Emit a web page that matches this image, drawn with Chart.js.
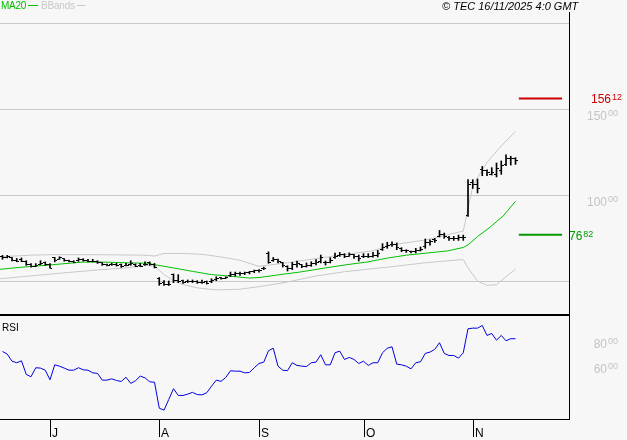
<!DOCTYPE html>
<html>
<head>
<meta charset="utf-8">
<script src="https://cdn.jsdelivr.net/npm/chart.js@4.4.1/dist/chart.umd.min.js"></script>
<style>
  body { margin: 0; background: #f7f7f7; }
  #wrap { position: relative; width: 627px; height: 440px; overflow: hidden; font-family: "Liberation Sans", Arial, sans-serif; }
  canvas { position: absolute; left: 0; }
  #price { top: 0; }
  #rsi { top: 314px; }
  .txt { position: absolute; font-size: 10px; line-height: 10px; white-space: nowrap; }
  .dash { display: inline-block; width: 10px; height: 1px; margin-left: 2px; vertical-align: 3px; }
</style>
</head>
<body>
<div id="wrap">
  <canvas id="price" width="627" height="316"></canvas>
  <canvas id="rsi" width="627" height="126"></canvas>
  <div class="txt" style="left:1px;top:1px;color:#00c000;letter-spacing:-0.3px">MA20<span class="dash" style="background:#00c000"></span></div>
  <div class="txt" style="left:41px;top:1px;color:#c8c8c8;letter-spacing:-0.2px">BBands<span class="dash" style="background:#c8c8c8;width:8px"></span></div>
  <div class="txt" style="left:442px;top:1px;font-size:11px;line-height:11px;font-style:italic;color:#000">© TEC 16/11/2025 4:0 GMT</div>
  <div class="txt" style="left:2px;top:323px;color:#000">RSI</div>
</div>
<script>
// trading days 17 Jun 2025 -> 14 Nov 2025, one value per bar
const opens = [64.5, 63.8, 63.5, 62, 62.5, 61.5, 59.5, 58.5, 59.8, 60.5, 59.5, 63.5, 62.5, 63, 62, 61.5, 61.8, 62.5, 62, 61.5,
  61.5, 60.5, 59.5, 59.5, 59.5, 59.5, 59, 59.5, 59.5, 59, 59.5, 60.5, 59.5, 51.5, 49, 48, 53.5, 50, 50, 49.5,
  49.5, 49.5, 49, 49.5, 49.5, 51, 51.8, 51.5, 53, 54, 54.5, 54.5, 55, 55.5, 56, 57, 66, 62, 62.5, 60.5,
  58.5, 57.5, 59.5, 59.5, 58.5, 59, 60, 61.5, 61, 61, 63.5, 65, 65.5, 64.5, 65.5, 64, 64, 64.5, 64.5, 65,
  68.5, 70, 71, 71.5, 69, 68, 67, 67, 68, 70, 72.5, 74, 76, 77, 75.5, 74.5, 74.5, 75.5, 88, 107,
  106, 115, 114, 112, 112, 114, 118, 121, 121];
const highs = [64.9, 64.9, 63.7, 63.1, 63.4, 61.8, 60.1, 60.1, 61.8, 61.1, 60.1, 63.7, 64.1, 63.0, 62.2, 61.8, 63.4, 63.0, 62.6, 62.6,
  61.8, 60.6, 59.9, 60.3, 60.3, 59.9, 60.3, 61.8, 59.9, 60.3, 61.1, 61.1, 60.2, 52, 50.2, 50.0, 54.1, 53.7, 50.6, 50.6,
  50.6, 50.2, 50.6, 50.0, 51.3, 52.5, 52.1, 52.5, 55.2, 55.2, 55.2, 55.2, 55.6, 56.4, 56.7, 58.1, 67.0, 63.7, 62.8, 60.8,
  58.9, 60.8, 61.6, 59.7, 60.5, 61.2, 62.4, 65.1, 61.6, 63.6, 66.3, 66.6, 65.9, 66.3, 65.5, 65.1, 65.9, 65.9, 66.6, 67.8,
  71.7, 72.5, 72.8, 72.1, 69.4, 68.2, 67.4, 69.0, 69.8, 74.4, 74.0, 74.8, 79.4, 77.9, 75.9, 75.9, 76.7, 76.7, 108.9, 108.9,
  109.3, 116.6, 114.7, 115.9, 118.6, 119.8, 123.3, 122.5, 121.7];
const lows = [62.6, 63.4, 61.6, 61.2, 61.2, 59.1, 58.0, 58.3, 59.5, 59.1, 57.4, 61.1, 62.6, 61.5, 61.1, 60.6, 61.4, 61.5, 61.1, 61.1,
  60.2, 59.1, 58.7, 59.1, 58.7, 57.9, 58.7, 59.1, 58.3, 58.3, 59.1, 59.1, 57.6, 47.5, 47.4, 47.4, 49.0, 49.0, 48.6, 49.1,
  49.1, 48.6, 48.6, 48.2, 49.0, 50.2, 51.0, 51.4, 52.5, 52.9, 53.3, 53.7, 54.1, 54.8, 55.2, 56.6, 60.3, 61.4, 60.5, 58.1,
  55.8, 56.6, 58.1, 57.7, 58.1, 58.5, 59.3, 60.5, 59.3, 60.5, 63.1, 64.3, 63.6, 64.3, 63.1, 61.6, 63.6, 63.6, 63.9, 64.0,
  67.8, 69.0, 70.1, 68.2, 67.0, 66.6, 66.3, 66.3, 67.4, 69.0, 70.9, 72.4, 75.6, 74.8, 73.6, 73.6, 73.6, 73.6, 87.6, 103.8,
  101.2, 111.2, 111.2, 111.6, 110.5, 112.0, 117.1, 117.4, 117.8];
const closes = [63.5, 64, 62, 61.5, 61.5, 59.5, 58.5, 58.8, 60, 59.5, 57.5, 62, 63.5, 62, 61.5, 61, 62.5, 62, 61.5, 61.5,
  60.5, 59.5, 59.2, 59.3, 59, 58.5, 59, 60, 58.5, 58.7, 59.5, 59.5, 58, 48.5, 48, 47.8, 50, 49.5, 49, 49.5,
  49.5, 49, 49, 48.5, 50, 51.5, 51.5, 51.8, 54, 54.5, 54.5, 55, 55.5, 56, 56.3, 57.5, 61, 62.5, 61.5, 59,
  57, 59.5, 60, 58.5, 59, 60, 61, 63.5, 60.5, 62, 64.5, 65.5, 64.5, 65.5, 64, 63, 64.5, 64.5, 65, 66,
  69.5, 70.5, 71.5, 69.5, 68, 67.5, 67, 67.5, 68.5, 72.5, 73, 73.5, 77, 76, 74.5, 74.5, 75, 75, 106, 106,
  104, 114, 113, 113, 115.5, 117, 121, 121.5, 120];
const rsi = [69.3, 67.1, 61.3, 60, 61.6, 50.4, 48.5, 55.9, 55.6, 53.9, 46, 58.3, 57.2, 55.6, 53.9, 53.9, 55.9, 54.2, 53.9, 51.7,
  51.3, 45.7, 45.7, 46.8, 45.4, 44.6, 48.1, 43, 45.2, 49, 47.6, 44.3, 44, 22.6, 21, 29.8, 38.6, 33.1, 33.1, 34.2,
  35.6, 33.8, 33.6, 35.3, 40.7, 45.7, 44.7, 47.9, 53.4, 53.1, 53.1, 51.7, 52, 55.9, 59.4, 60.5, 69.9, 72, 57.2, 53.9,
  53.5, 60, 57.8, 57.2, 56.9, 60, 60.5, 66.6, 58.3, 58.3, 68.2, 69.6, 62.7, 64.4, 62.7, 59.4, 61.3, 57.8, 60, 60,
  68.2, 72, 73.1, 58.9, 58.3, 57.2, 55, 60, 60.8, 67.7, 68.8, 71, 76.5, 67.7, 66, 66, 63.8, 68.2, 88, 88.5,
  88.5, 90.7, 82.5, 84.1, 78.6, 82.5, 78.1, 79.8, 79.8];

// indicator lines, read at bar positions (bar index, value)
const maIdx = [-0.5, 4, 9, 14, 17, 21, 26, 30.5, 32, 36, 40, 44, 46, 52, 54, 58.4, 62.6, 68, 72.5, 76.7, 81, 85, 89.5, 93.7, 97, 98, 100, 102.6, 105.4, 108];
const maVals = [56.8, 58, 59.1, 60.3, 61, 61, 60.6, 60.3, 59.5, 57.6, 55.6, 53.7, 53.3, 51.7, 52, 53.7, 55.2, 57.6, 59.5, 61, 63.3, 65, 66.3, 67.5, 69.5, 71, 75.8, 81.2, 87.8, 96.3];
const upIdx = [-0.5, 6, 10, 20, 30, 32, 34, 38, 42, 46, 50, 54, 60, 68, 78, 82, 89, 97, 98, 99, 100, 102, 105, 108];
const upVals = [64.1, 65, 65.3, 65.3, 65, 64.5, 66, 66, 65.5, 64, 62, 58.5, 60.6, 63.8, 67.6, 71, 73.8, 79, 92, 105, 110, 119, 128.5, 137];
const loIdx = [-0.5, 12, 20, 26, 30, 32, 34, 36, 38, 41, 45, 50, 55, 60, 66, 72, 78, 82, 89, 97, 98, 100, 102, 104, 106, 108];
const loVals = [51.3, 54.5, 56.4, 57.6, 59.1, 58.7, 53.7, 50.2, 47.9, 46, 44.8, 45.2, 47.1, 49.4, 52.9, 55.4, 57.2, 58.3, 60.6, 62.5, 57.6, 50, 47.5, 47.8, 52.5, 56.8];

const levels = [156.12, 76.82];
const levelSpan = [108.7, 117.8];
const priceTicks = [150, 100];
const priceGrid = [200, 150, 100, 50];
const rsiTicks = [80, 60];
const monthLabels = ["J", "A", "S", "O", "N"];
const monthIdx = [10, 33, 54, 76, 99];

const xMin = -0.526, xMax = 119.26;
const toXY = (idx, vals) => idx.map((x, i) => ({ x, y: vals[i] }));

const tickImg = (side) => {
  const c = document.createElement("canvas");
  c.width = 5; c.height = 1;
  const g = c.getContext("2d");
  g.fillStyle = "#000";
  g.fillRect(side < 0 ? 0 : 3, 0, 2, 1);
  return c;
};

const drawSplit = (ctx, big, small, x, base, color, align, bigFont, smallFont) => {
  ctx.fillStyle = color;
  ctx.font = bigFont;
  let left = x;
  if (align === "right") left = x - ctx.measureText(big).width;
  ctx.textAlign = "left";
  ctx.fillText(big, left, base);
  const w = ctx.measureText(big).width;
  ctx.font = smallFont;
  ctx.fillText(small, left + w + 1, base - 3.5);
};

const splitNum = (v) => v.toFixed(2).split(".");

const pricePlugin = {
  id: "pricePlugin",
  beforeDatasetsDraw(chart) {
    const { ctx, chartArea, scales: { y } } = chart;
    ctx.save();
    ctx.fillStyle = "#c8c8c8";
    priceGrid.forEach((v) => {
      ctx.fillRect(chartArea.left, Math.round(y.getPixelForValue(v)), chartArea.right - chartArea.left, 1);
    });
    ctx.restore();
  },
  afterDraw(chart) {
    const { ctx, chartArea, scales: { y } } = chart;
    ctx.save();
    ctx.textBaseline = "alphabetic";
    priceTicks.forEach((v) => {
      const [a, b] = splitNum(v);
      drawSplit(ctx, a, b, chartArea.right + 38, Math.round(y.getPixelForValue(v)) + 10.5, "#c4c4c4", "right",
        "12px 'Liberation Sans', Arial", "9px 'Liberation Sans', Arial");
    });
    let [a, b] = splitNum(levels[0]);
    drawSplit(ctx, a, b, chartArea.right + 42, Math.round(y.getPixelForValue(levels[0])) + 5, "#cc0000", "right",
      "12px 'Liberation Sans', Arial", "9px 'Liberation Sans', Arial");
    [a, b] = splitNum(levels[1]);
    drawSplit(ctx, a, b, chartArea.right, Math.round(y.getPixelForValue(levels[1])) + 5, "#009a00", "left",
      "12px 'Liberation Sans', Arial", "9px 'Liberation Sans', Arial");
    // frame
    ctx.fillStyle = "#000";
    ctx.fillRect(chartArea.right, 12, 1, chart.height - 12);
    ctx.fillRect(0, chartArea.bottom, chartArea.right + 1, 2);
    ctx.restore();
  },
};

const rsiPlugin = {
  id: "rsiPlugin",
  afterDraw(chart) {
    const { ctx, chartArea, scales: { x, y } } = chart;
    ctx.save();
    ctx.fillStyle = "#000";
    ctx.fillRect(chartArea.right, 0, 1, chartArea.bottom + 1);
    ctx.fillRect(0, chartArea.bottom, chartArea.right + 1, 1);
    ctx.font = "12px 'Liberation Sans', Arial";
    ctx.textBaseline = "alphabetic";
    monthIdx.forEach((m, i) => {
      const px = Math.round(x.getPixelForValue(m));
      ctx.fillRect(px, chartArea.bottom, 1, 18);
      ctx.fillText(monthLabels[i], px + 2, chartArea.bottom + 18);
    });
    rsiTicks.forEach((v) => {
      const [a, b] = splitNum(v);
      drawSplit(ctx, a, b, chartArea.right + 38, Math.round(y.getPixelForValue(v)) + 9.5, "#c4c4c4", "right",
        "12px 'Liberation Sans', Arial", "9px 'Liberation Sans', Arial");
    });
    ctx.restore();
  },
};

const barIdx = closes.map((_, i) => i);

new Chart(document.getElementById("price"), {
  type: "bar",
  data: {
    datasets: [
      {
        type: "line",
        data: toXY(upIdx, upVals),
        borderColor: "#c8c8c8",
        borderWidth: 1,
        pointRadius: 0,
        order: 5,
      },
      {
        type: "line",
        data: toXY(loIdx, loVals),
        borderColor: "#c8c8c8",
        borderWidth: 1,
        pointRadius: 0,
        order: 5,
      },
      {
        type: "line",
        data: toXY(maIdx, maVals),
        borderColor: "#00c000",
        borderWidth: 1,
        pointRadius: 0,
        order: 4,
      },
      {
        type: "bar",
        data: barIdx.map((i) => ({ x: i, y: [lows[i], highs[i]] })),
        backgroundColor: "#000",
        borderWidth: 0,
        barThickness: 1,
        grouped: false,
        order: 1,
      },
      {
        type: "line",
        showLine: false,
        data: barIdx.map((i) => ({ x: i, y: opens[i] })),
        pointStyle: tickImg(-1),
        pointRadius: 2,
        order: 0,
      },
      {
        type: "line",
        showLine: false,
        data: barIdx.map((i) => ({ x: i, y: closes[i] })),
        pointStyle: tickImg(1),
        pointRadius: 2,
        order: 0,
      },
      {
        type: "line",
        data: toXY(levelSpan, [levels[0], levels[0]]),
        borderColor: "#cc0000",
        borderWidth: 2,
        pointRadius: 0,
      },
      {
        type: "line",
        data: toXY(levelSpan, [levels[1], levels[1]]),
        borderColor: "#009a00",
        borderWidth: 2,
        pointRadius: 0,
      },
    ],
  },
  options: {
    responsive: false,
    animation: false,
    events: [],
    layout: { autoPadding: false, padding: { left: 0, right: 58, top: 23, bottom: 2 } },
    plugins: { legend: { display: false }, tooltip: { enabled: false } },
    scales: {
      x: { type: "linear", min: xMin, max: xMax, offset: false, display: false },
      y: { type: "linear", min: 30.81, max: 200, display: false },
    },
  },
  plugins: [pricePlugin],
});

new Chart(document.getElementById("rsi"), {
  type: "line",
  data: {
    datasets: [
      {
        data: barIdx.map((i) => ({ x: i, y: rsi[i] })),
        borderColor: "#0000dd",
        borderWidth: 1,
        pointRadius: 0,
      },
    ],
  },
  options: {
    responsive: false,
    animation: false,
    events: [],
    layout: { autoPadding: false, padding: { left: 0, right: 58, top: 2, bottom: 21 } },
    plugins: { legend: { display: false }, tooltip: { enabled: false } },
    scales: {
      x: { type: "linear", min: xMin, max: xMax, display: false },
      y: { type: "linear", min: 13.7, max: 98.5, display: false },
    },
  },
  plugins: [rsiPlugin],
});
</script>
</body>
</html>
